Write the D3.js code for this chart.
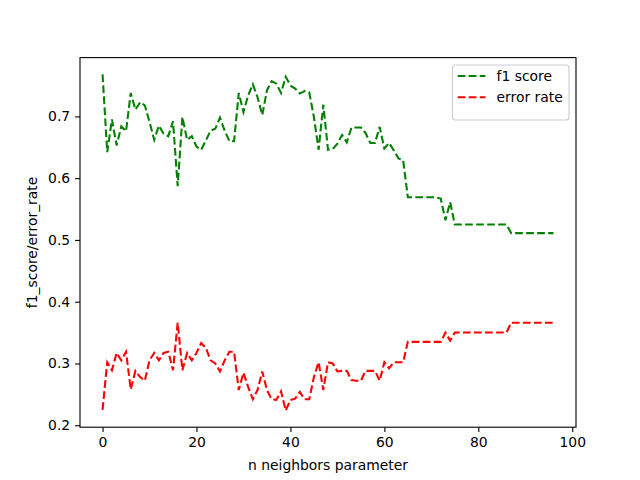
<!DOCTYPE html>
<html>
<head>
<meta charset="utf-8">
<script src="https://cdn.jsdelivr.net/npm/d3@7"></script>
<style>
  body { margin: 0; background: #fff; }
  svg text { font-family: "DejaVu Sans", sans-serif; }
</style>
</head>
<body>
<div class="chart"></div>
<script>
// f1 score per n neighbors (index 0..96)
const f1Score = [
  0.768, 0.642, 0.695, 0.653, 0.684, 0.676, 0.738, 0.711, 0.723, 0.718,
  0.691, 0.662, 0.685, 0.672, 0.668, 0.692, 0.587, 0.699, 0.662, 0.668,
  0.651, 0.646, 0.661, 0.677, 0.680, 0.698, 0.677, 0.660, 0.660, 0.738,
  0.707, 0.734, 0.752, 0.731, 0.702, 0.742, 0.757, 0.753, 0.738, 0.764,
  0.750, 0.745, 0.737, 0.741, 0.739, 0.699, 0.646, 0.719, 0.646, 0.647,
  0.656, 0.670, 0.658, 0.682, 0.682, 0.682, 0.673, 0.657, 0.657, 0.683,
  0.648, 0.657, 0.645, 0.632, 0.629, 0.569, 0.569, 0.569, 0.569, 0.569,
  0.569, 0.569, 0.567, 0.532, 0.561, 0.525, 0.525, 0.525, 0.525, 0.525,
  0.525, 0.525, 0.525, 0.525, 0.525, 0.525, 0.525, 0.511, 0.511, 0.511,
  0.511, 0.511, 0.511, 0.511, 0.511, 0.511, 0.511
];
// error rate per n neighbors
const errorRate = [
  0.225, 0.302, 0.289, 0.317, 0.305, 0.319, 0.258, 0.288, 0.278, 0.272,
  0.305, 0.317, 0.305, 0.317, 0.319, 0.289, 0.366, 0.289, 0.317, 0.305,
  0.317, 0.333, 0.325, 0.305, 0.300, 0.287, 0.305, 0.319, 0.319, 0.257,
  0.285, 0.262, 0.242, 0.257, 0.287, 0.257, 0.242, 0.241, 0.255, 0.224,
  0.241, 0.243, 0.254, 0.242, 0.242, 0.278, 0.302, 0.257, 0.302, 0.300,
  0.287, 0.288, 0.288, 0.273, 0.272, 0.272, 0.288, 0.288, 0.288, 0.272,
  0.302, 0.292, 0.302, 0.302, 0.302, 0.335, 0.335, 0.335, 0.335, 0.335,
  0.335, 0.335, 0.335, 0.350, 0.337, 0.350, 0.350, 0.350, 0.350, 0.350,
  0.350, 0.350, 0.350, 0.350, 0.350, 0.350, 0.350, 0.366, 0.366, 0.366,
  0.366, 0.366, 0.366, 0.366, 0.366, 0.366, 0.366
];
const xTicks = [0, 20, 40, 60, 80, 100];
const yTicks = [0.2, 0.3, 0.4, 0.5, 0.6, 0.7];
const seriesNames = ["f1 score", "error rate"];
const seriesColors = ["green", "red"];

const W = 640, H = 480;
const margin = {top: 57.6, right: 64, bottom: 52.8, left: 80},
      width  = W - margin.left - margin.right,
      height = H - margin.top - margin.bottom;

const svg = d3.select(".chart").append("svg")
    .attr("width", W)
    .attr("height", H);
const g = svg.append("g")
    .attr("transform", "translate(" + margin.left + "," + margin.top + ")");

// matplotlib style 5% padding
const n = f1Score.length;
const x = d3.scaleLinear()
    .domain([-(n - 1) * 0.05, (n - 1) * 1.05])
    .range([0, width]);
const all = f1Score.concat(errorRate);
const lo = d3.min(all), hi = d3.max(all), pad = (hi - lo) * 0.05;
const y = d3.scaleLinear()
    .domain([lo - pad, hi + pad])
    .range([height, 0]);

const line = d3.line()
    .x((d, i) => x(i))
    .y(d => y(d));

[f1Score, errorRate].forEach((s, k) => {
  g.append("path")
    .datum(s)
    .attr("fill", "none")
    .attr("stroke", seriesColors[k])
    .attr("stroke-width", 2.08)
    .attr("stroke-dasharray", "7.7,3.33")
    .attr("d", line);
});

// axes
const xAxis = g.append("g")
    .attr("transform", "translate(0," + height + ")")
    .call(d3.axisBottom(x).tickValues(xTicks).tickSize(4.9).tickPadding(4.9).tickFormat(d3.format("d")));
const yAxis = g.append("g")
    .call(d3.axisLeft(y).tickValues(yTicks).tickSize(4.9).tickPadding(4.9).tickFormat(d3.format(".1f")));
[xAxis, yAxis].forEach(a => {
  a.select(".domain").remove();
  a.selectAll(".tick line").attr("stroke", "#000").attr("stroke-width", 1.1);
  a.selectAll(".tick text").attr("fill", "#000").style("font-size", "13.9px")
    .style("font-family", "DejaVu Sans");
});

// spines
g.append("rect")
    .attr("width", width)
    .attr("height", height)
    .attr("fill", "none")
    .attr("stroke", "#000")
    .attr("stroke-width", 1.1);

// labels
g.append("text")
    .attr("x", width / 2)
    .attr("y", height + 43)
    .attr("text-anchor", "middle")
    .style("font-size", "13.9px")
    .text("n neighbors parameter");
g.append("text")
    .attr("transform", "translate(" + (-43) + "," + (height / 2) + ") rotate(-90)")
    .attr("text-anchor", "middle")
    .style("font-size", "13.9px")
    .text("f1_score/error_rate");

// legend
const lg = g.append("g")
    .attr("transform", "translate(" + (width - 123.5) + "," + 7.4 + ")");
lg.append("rect")
    .attr("width", 116.5)
    .attr("height", 55)
    .attr("rx", 3)
    .attr("fill", "#fff")
    .attr("fill-opacity", 0.8)
    .attr("stroke", "#ccc")
    .attr("stroke-width", 1.1);
seriesNames.forEach((name, k) => {
  const row = lg.append("g").attr("transform", "translate(0," + (11 + k * 21.3) + ")");
  row.append("line")
    .attr("x1", 5.2).attr("x2", 33)
    .attr("stroke", seriesColors[k])
    .attr("stroke-width", 2.08)
    .attr("stroke-dasharray", "7.7,3.33");
  row.append("text")
    .attr("x", 44)
    .attr("dy", "0.35em")
    .style("font-size", "13.9px")
    .text(name);
});
</script>
</body>
</html>
